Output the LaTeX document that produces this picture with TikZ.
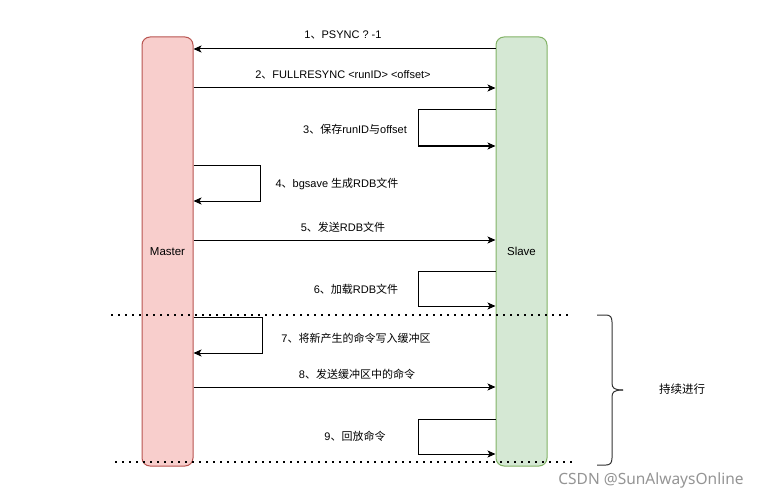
\documentclass[tikz,border=0pt]{standalone}
\usepackage{fontspec}
\setmainfont{Liberation Sans}
\newfontfamily\cjk{Noto Sans CJK SC}
\newfontfamily\wmfont{Noto Sans}
\usetikzlibrary{arrows.meta}
\definecolor{mfill}{HTML}{F8CECC}
\definecolor{mdraw}{HTML}{B85450}
\definecolor{sfill}{HTML}{D5E8D4}
\definecolor{sdraw}{HTML}{82B366}
\definecolor{bracec}{HTML}{333333}
\begin{document}
\begin{tikzpicture}[x=1pt,y=-1pt,
  lane/.style={rounded corners=8pt, line width=1pt, minimum width=51pt, minimum height=429pt, inner sep=0pt, font=\fontsize{11.5}{13}\selectfont},
  msg/.style={line width=1pt, -{Stealth[length=8pt,width=7pt,inset=2pt]}},
  lbl/.style={font=\fontsize{11}{12}\selectfont, inner sep=0pt},
  dots/.style={line width=1.7pt, dash pattern=on 1.7pt off 5.3pt},
]
\useasboundingbox (0,0) rectangle (760,500);
\node[lane, fill=mfill, draw=mdraw] (master) at (167.5,251.5) {Master};
\node[lane, fill=sfill, draw=sdraw] (slave) at (521.5,251.5) {Slave};
% y-levels
\coordinate (y1) at (0,49);
\coordinate (y2) at (0,88);
\coordinate (y3a) at (0,110);
\coordinate (y3b) at (0,146);
\coordinate (y4a) at (0,165);
\coordinate (y4b) at (0,201);
\coordinate (y5) at (0,240);
\coordinate (y6a) at (0,271);
\coordinate (y6b) at (0,306);
\coordinate (y7a) at (0,317);
\coordinate (y7b) at (0,353);
\coordinate (y8) at (0,387);
\coordinate (y9a) at (0,419);
\coordinate (y9b) at (0,454);
% 1
\draw[msg] (slave.west |- y1) -- (master.east |- y1);
\node[lbl] (l1) at (343,35) {1{\cjk 、}PSYNC ? -1};
% 2
\draw[msg] (master.east |- y2) -- (slave.west |- y2);
\node[lbl] (l2) at (343,75) {2{\cjk 、}FULLRESYNC <runID> <offset>};
% 3
\draw[msg] (slave.west |- y3a) -- (418,110) -- (418,146) -- (slave.west |- y3b);
\node[lbl] (l3) at (355,129) {3{\cjk 、保存}runID{\cjk 与}offset};
% 4
\draw[msg] (master.east |- y4a) -- (260,165) -- (260,201) -- (master.east |- y4b);
\node[lbl] (l4) at (337,184) {4{\cjk 、}bgsave {\cjk 生成}RDB{\cjk 文件}};
% 5
\draw[msg] (master.east |- y5) -- (slave.west |- y5);
\node[lbl] (l5) at (343,227) {5{\cjk 、发送}RDB{\cjk 文件}};
% 6
\draw[msg] (slave.west |- y6a) -- (418,271) -- (418,306) -- (slave.west |- y6b);
\node[lbl] (l6) at (356,289) {6{\cjk 、加载}RDB{\cjk 文件}};
% 7
\draw[msg] (master.east |- y7a) -- (262,317) -- (262,353) -- (master.east |- y7b);
\node[lbl] (l7) at (356,338) {7{\cjk 、将新产生的命令写入缓冲区}};
% 8
\draw[msg] (master.east |- y8) -- (slave.west |- y8);
\node[lbl] (l8) at (357,374) {8{\cjk 、发送缓冲区中的命令}};
% 9
\draw[msg] (slave.west |- y9a) -- (418,419) -- (418,454) -- (slave.west |- y9b);
\node[lbl] (l9) at (355,436) {9{\cjk 、回放命令}};
% dotted separators
\coordinate (d1a) at (111,315);
\coordinate (d1b) at (571,315);
\coordinate (d2a) at (115,462);
\coordinate (d2b) at (574,462);
\draw[dots] (d1a) -- (d1b);
\draw[dots] (d2a) -- (d2b);
% brace
\draw[bracec, line width=1pt] (597,315) -- (606,315) .. controls (610,315) and (612,317) .. (612,322) -- (612,383) .. controls (612,388) and (614,390) .. (623,390);
\draw[bracec, line width=1pt] (623,390) .. controls (614,390) and (612,392) .. (612,397) -- (612,458) .. controls (612,463) and (610,465) .. (606,465) -- (597,465);
\node[font=\fontsize{11.5}{13}\selectfont, inner sep=0pt] (cont) at (682,389) {\cjk 持续进行};
\node[font=\wmfont\fontsize{15.5}{17}\selectfont, text=black!42, inner sep=0pt] (wm) at (651,480) {CSDN @SunAlwaysOnline};
\end{tikzpicture}
\end{document}
